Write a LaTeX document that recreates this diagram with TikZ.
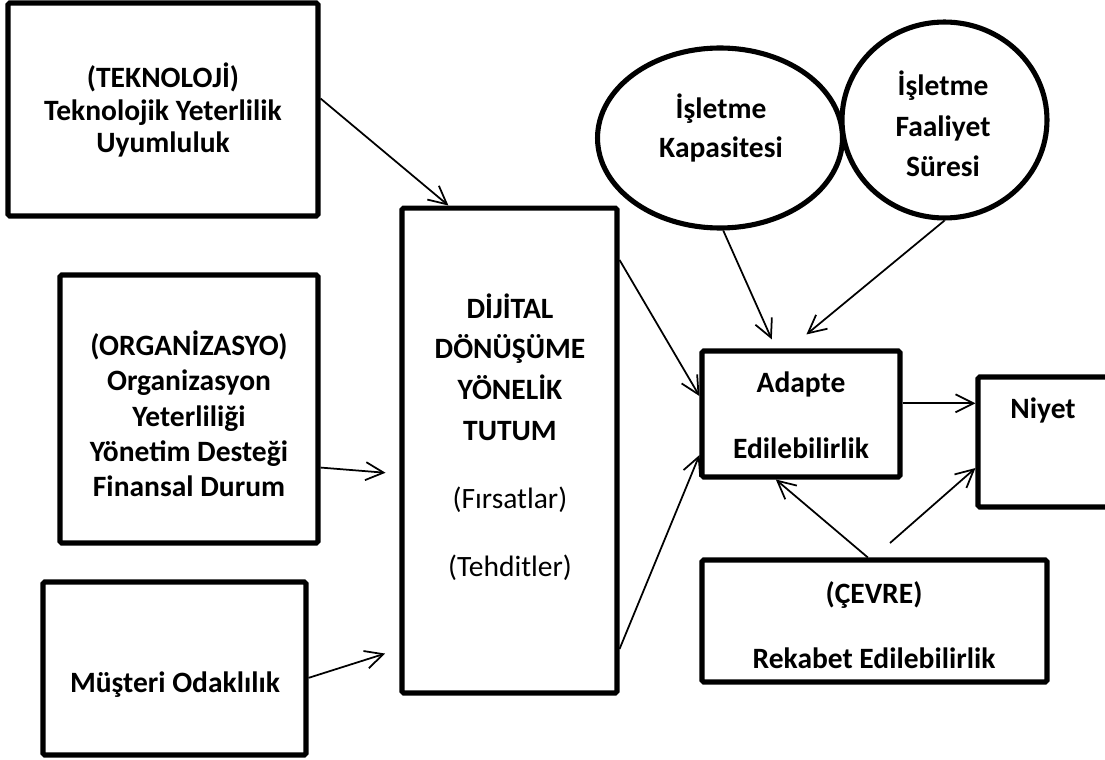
\documentclass[tikz,border=0pt]{standalone}
\usepackage{fontspec}
\setmainfont{Carlito}
\usetikzlibrary{arrows.meta,shapes.geometric}

\begin{document}
\begin{tikzpicture}[
    x=0.02cm, y=-0.02cm,
    box/.style={draw, line width=2.9pt, rounded corners=1pt, inner sep=0pt},
    oval/.style={draw, ellipse, line width=2.9pt, inner sep=0pt},
    txt/.style={align=center, inner sep=0pt, font=\fontsize{16.8}{19}\selectfont\bfseries},
    link/.style={draw, line width=1pt, -{Straight Barb[length=0.36cm, width=0.36cm]}}
]
    \clip (0,0) rectangle (1105,760);

    % boxes and ovals
    \node[box, minimum width=6.2cm, minimum height=4.26cm] (tech) at (163,109.5) {};
    \node[box, minimum width=5.16cm, minimum height=5.36cm] (org) at (189,409) {};
    \node[box, minimum width=5.26cm, minimum height=3.46cm] (must) at (174.5,668.5) {};
    \node[box, minimum width=4.3cm, minimum height=9.7cm] (dig) at (509.5,450.5) {};
    \node[oval, minimum width=4.9cm, minimum height=3.6cm] (cap) at (720,138) {};
    \node[oval, minimum width=4.1cm, minimum height=3.92cm] (dur) at (944.5,120) {};
    \node[box, minimum width=3.96cm, minimum height=2.52cm] (adapt) at (801,414) {};
    \node[box, minimum width=2.92cm, minimum height=2.6cm] (niyet) at (1051,442) {};
    \node[box, minimum width=6.9cm, minimum height=2.44cm] (cevre) at (874.5,621) {};

    % texts
    \node[txt, font=\fontsize{16.8}{18.4}\selectfont\bfseries] (tech-t) at (163,110)
        {(TEKNOLOJİ)\\Teknolojik Yeterlilik\\Uyumluluk};
    \node[txt, font=\fontsize{16.8}{20.1}\selectfont\bfseries] (org-t) at (189,414)
        {(ORGANİZASYO)\\Organizasyon\\Yeterliliği\\Yönetim Desteği\\Finansal Durum};
    \node[txt] (must-t) at (175,685) {Müşteri Odaklılık};
    \node[txt, font=\fontsize{16.8}{23.2}\selectfont\bfseries] (dig-t) at (510,437)
        {DİJİTAL\\DÖNÜŞÜME\\YÖNELİK\\TUTUM\\[15.3pt]\mdseries(Fırsatlar)\\[15.8pt]\mdseries(Tehditler)};
    \node[txt, font=\fontsize{16.8}{22.7}\selectfont\bfseries] (cap-t) at (721,128)
        {İşletme\\Kapasitesi};
    \node[txt, font=\fontsize{16.8}{23.2}\selectfont\bfseries] (dur-t) at (943,124)
        {İşletme\\Faaliyet\\Süresi};
    \node[txt, font=\fontsize{16.8}{23.2}\selectfont\bfseries] (adapt-t) at (801,415)
        {Adapte\\[14.2pt]Edilebilirlik};
    \node[txt] (niyet-t) at (1043,410) {Niyet};
    \node[txt, font=\fontsize{16.8}{23.2}\selectfont\bfseries] (cevre-t) at (874,625)
        {(ÇEVRE)\\[13.6pt]Rekabet Edilebilirlik};

    \coordinate (cevre-gap) at (890,543);

    % connectors
    \draw[link] (tech.4) -- (dig.104);
    \draw[link, shorten >=0.28cm] (org.-24) -- (dig.192);
    \draw[link, shorten >=0.3cm] (must.-4) -- (dig.241);
    \draw[link] (dig.60) -- (adapt.170);
    \draw[link] (dig.-61) -- (adapt.202);
    \draw[link, shorten >=0.2cm] (cap.-88) -- (adapt.111);
    \draw[link, shorten >=0.44cm] (dur.south) -- (adapt.100);
    \draw[link] (adapt.6) -- (adapt.6 -| niyet.west);
    \draw[link] (cevre.96) -- (adapt.249);
    \draw[link] (cevre-gap) -- (niyet.199);

\end{tikzpicture}
\end{document}
